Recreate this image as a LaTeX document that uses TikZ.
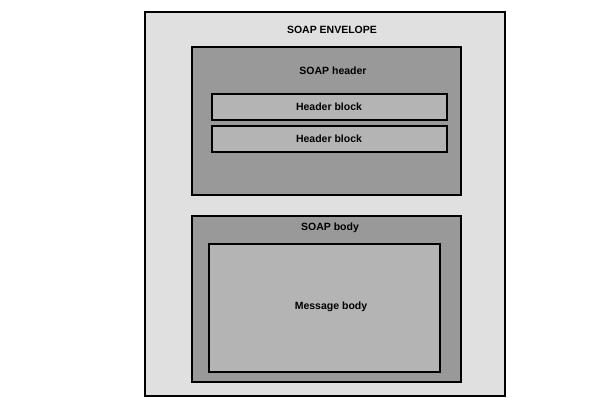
\documentclass[tikz,border=0pt]{standalone}
\usepackage{fontspec}
\setmainfont{Liberation Sans}
\usepackage{tikz}
\usetikzlibrary{positioning}

\definecolor{envgray}{HTML}{E0E0E0}
\definecolor{partgray}{HTML}{999999}
\definecolor{blockgray}{HTML}{B4B4B4}

\begin{document}
\begin{tikzpicture}[
    x=1pt, y=-1pt,
    box/.style={draw, rectangle, line width=2pt, inner sep=0pt},
    envelope/.style={box, fill=envgray, minimum width=360pt, minimum height=384pt},
    part/.style={box, fill=partgray, minimum width=269pt},
    block/.style={box, fill=blockgray},
    label/.style={font=\bfseries\fontsize{10.5}{12}\selectfont, inner sep=0pt}
]
\useasboundingbox (0,0) rectangle (600,400);

%%%%% Envelope
\node[envelope] (env) at (325,204) {};
\node[label] (envlbl) at (332,30) {SOAP ENVELOPE};

%  Header part
\node[part, minimum height=148pt] (hdr) at (326.5,120.5) {};
\node[label] (hdrlbl) at (333,71) {SOAP header};
\node[block, minimum width=235pt, minimum height=26pt] (hb0) at (329,107) {};
\node[block, minimum width=235pt, minimum height=26pt] (hb1) at (329,139) {};
\node[label] at (hb0) {Header block};
\node[label] at (hb1) {Header block};

%  Body part
\node[part, minimum height=166pt] (bdy) at (326.5,299) {};
\node[label] (bdylbl) at (330,228) {SOAP body};
\node[block, minimum width=231pt, minimum height=128pt] (msg) at (324.5,308) {};
\node[label] at (331,307) {Message body};

\end{tikzpicture}
\end{document}
